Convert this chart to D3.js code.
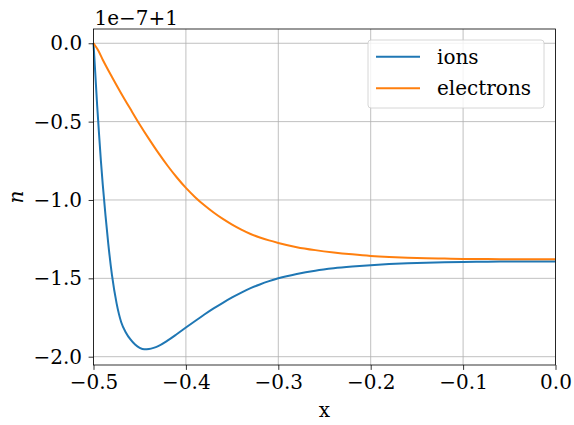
<!DOCTYPE html>
<html>
<head>
<meta charset="utf-8">
<script src="https://cdn.jsdelivr.net/npm/d3@7"></script>
<style>
  body { margin: 0; background: #fff; }
  text { font-family: "DejaVu Serif", serif; }
</style>
</head>
<body>
<div id="graph"></div>
<script>
// values in units of 1e-7, offset +1
const ionX = [-0.5, -0.498, -0.496, -0.494, -0.492, -0.49, -0.487, -0.484, -0.48, -0.475, -0.47, -0.465,
  -0.46, -0.455, -0.45, -0.445, -0.44, -0.435, -0.43, -0.42, -0.41, -0.40, -0.39, -0.38, -0.37, -0.36,
  -0.35, -0.34, -0.33, -0.32, -0.31, -0.30, -0.28, -0.26, -0.24, -0.22, -0.20, -0.18, -0.16, -0.14, -0.12,
  -0.10, -0.08, -0.06, -0.04, -0.02, 0];
const ionN = [0, -0.2, -0.4, -0.58, -0.75, -0.9, -1.1, -1.28, -1.48, -1.66, -1.78, -1.845,
  -1.89, -1.922, -1.943, -1.953, -1.951, -1.944, -1.933, -1.898, -1.857, -1.814, -1.772, -1.731, -1.692, -1.656,
  -1.622, -1.591, -1.563, -1.539, -1.518, -1.500, -1.472, -1.451, -1.436, -1.425, -1.416, -1.409, -1.404, -1.400, -1.397,
  -1.395, -1.394, -1.393, -1.393, -1.392, -1.392];

const elecX = [-0.5, -0.495, -0.49, -0.48, -0.47, -0.46, -0.45, -0.44, -0.43, -0.42, -0.41, -0.40, -0.39,
  -0.38, -0.37, -0.36, -0.35, -0.34, -0.33, -0.32, -0.31, -0.30, -0.28, -0.26, -0.24, -0.22, -0.20,
  -0.18, -0.16, -0.14, -0.12, -0.10, -0.08, -0.06, -0.04, -0.02, 0];
const elecN = [0, -0.045, -0.105, -0.215, -0.32, -0.42, -0.518, -0.61, -0.698, -0.78, -0.855, -0.923, -0.982,
  -1.034, -1.08, -1.121, -1.157, -1.189, -1.217, -1.239, -1.258, -1.274, -1.301, -1.32, -1.335, -1.347, -1.357,
  -1.364, -1.369, -1.372, -1.374, -1.376, -1.377, -1.378, -1.378, -1.378, -1.378];

const xTicks = [-0.5, -0.4, -0.3, -0.2, -0.1, 0.0];
const yTicks = [0.0, -0.5, -1.0, -1.5, -2.0];
const seriesNames = ["ions", "electrons"];
const colors = ["#1f77b4", "#ff7f0e"];

const W = 574, H = 425;
const margin = {top: 29, right: 18.5, bottom: 60, left: 93.5};
const width = W - margin.left - margin.right;
const height = H - margin.top - margin.bottom;
const fs = 20;

const svg = d3.select("#graph").append("svg")
  .attr("width", W).attr("height", H);
const g = svg.append("g")
  .attr("transform", "translate(" + margin.left + "," + margin.top + ")");

const xScale = d3.scaleLinear().domain([-0.5, 0]).range([0, width]);
const yScale = d3.scaleLinear().domain([-2.053, 0.091]).range([height, 0]);

const fmt = v => (v < 0 ? "\u2212" : "") + Math.abs(v).toFixed(1);

// grid
g.append("g").selectAll("line").data(xTicks).join("line")
  .attr("x1", d => xScale(d)).attr("x2", d => xScale(d))
  .attr("y1", 0).attr("y2", height)
  .attr("stroke", "#b0b0b0").attr("stroke-width", 0.8);
g.append("g").selectAll("line").data(yTicks).join("line")
  .attr("y1", d => yScale(d)).attr("y2", d => yScale(d))
  .attr("x1", 0).attr("x2", width)
  .attr("stroke", "#b0b0b0").attr("stroke-width", 0.8);

// lines
const line = d3.line().curve(d3.curveMonotoneX)
  .x(d => xScale(d[0])).y(d => yScale(d[1]));
const series = [d3.zip(ionX, ionN), d3.zip(elecX, elecN)];
g.append("g").selectAll("path").data(series).join("path")
  .attr("d", line)
  .attr("fill", "none")
  .attr("stroke", (d, i) => colors[i])
  .attr("stroke-width", 2);

// axes
const xAxis = g.append("g")
  .attr("transform", "translate(0," + height + ")")
  .call(d3.axisBottom(xScale).tickValues(xTicks).tickFormat(fmt).tickSizeOuter(0).tickSize(4.9).tickPadding(5));
const yAxis = g.append("g")
  .call(d3.axisLeft(yScale).tickValues(yTicks).tickFormat(fmt).tickSizeOuter(0).tickSize(4.9).tickPadding(6.5));
[xAxis, yAxis].forEach(a => {
  a.select(".domain").remove();
  a.selectAll("line").attr("stroke", "#000").attr("stroke-width", 0.8);
  a.selectAll("text").attr("font-family", "DejaVu Serif").attr("font-size", fs).attr("fill", "#000");
});

// frame
g.append("rect").attr("width", width).attr("height", height)
  .attr("fill", "none").attr("stroke", "#000").attr("stroke-width", 0.8);

// offset text
svg.append("text").attr("x", margin.left + 1).attr("y", 25)
  .attr("font-size", fs).text("1e\u22127+1");

// axis labels
svg.append("text").attr("x", margin.left + width / 2).attr("y", 417)
  .attr("text-anchor", "middle").attr("font-size", fs).text("x");
svg.append("text")
  .attr("transform", "translate(23," + (margin.top + height / 2) + ") rotate(-90)")
  .attr("text-anchor", "middle").attr("font-size", fs).attr("font-style", "italic")
  .attr("font-family", "DejaVu Sans").text("n");

// legend
const legend = svg.append("g").attr("transform", "translate(368,40)");
legend.append("rect").attr("width", 176).attr("height", 68).attr("rx", 3)
  .attr("fill", "#fff").attr("fill-opacity", 0.8)
  .attr("stroke", "#cccccc").attr("stroke-width", 0.8);
seriesNames.forEach((name, i) => {
  const yy = 16.7 + i * 31.6;
  legend.append("line").attr("x1", 8).attr("x2", 52).attr("y1", yy).attr("y2", yy)
    .attr("stroke", colors[i]).attr("stroke-width", 2);
  legend.append("text").attr("x", 69).attr("y", yy + 7).attr("font-size", fs).text(name);
});
</script>
</body>
</html>
